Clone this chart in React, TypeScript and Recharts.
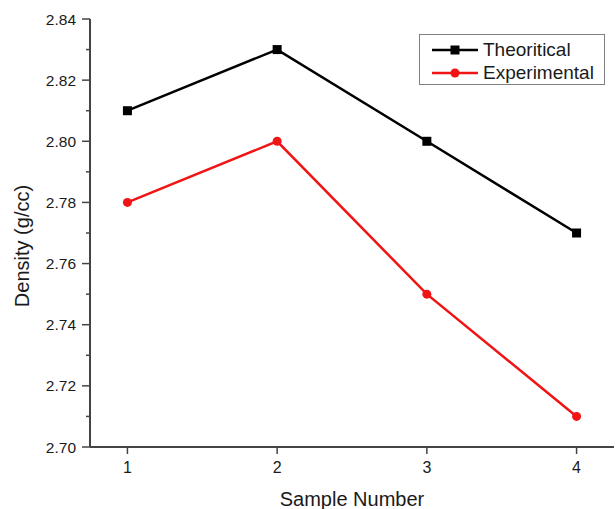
import React from "react";
import {
  LineChart,
  Line,
  XAxis,
  YAxis,
  Legend,
} from "recharts";

const samples = [1, 2, 3, 4];
const theoretical = [2.81, 2.83, 2.8, 2.77];
const experimental = [2.78, 2.8, 2.75, 2.71];
const seriesOrder = ["theo", "exp"];
const xTicks = [1, 2, 3, 4];
const yTicks = [
  2.7, 2.71, 2.72, 2.73, 2.74, 2.75, 2.76, 2.77, 2.78, 2.79, 2.8, 2.81, 2.82,
  2.83, 2.84,
];

const data = samples.map((s, i) => ({
  sample: s,
  theo: theoretical[i],
  exp: experimental[i],
}));

const FONT = "'Liberation Sans', Arial, sans-serif";
const TEXT = "#1a1a1a";
const AXIS = "#444";
const BORDER = "#808080";
const RED = "#f01414";

function YTick(props: any) {
  const { x, y, index } = props;
  const major = index % 2 === 0;
  return (
    <g>
      <line x1={x - (major ? 8 : 4)} x2={x} y1={y} y2={y} stroke={AXIS} strokeWidth={1.5} />
      {major && (
        <text
          x={x - 14}
          y={y}
          dy={5.5}
          textAnchor="end"
          fontSize={15.5}
          fontFamily={FONT}
          fill={TEXT}
        >
          {Number(props.payload.value).toFixed(2)}
        </text>
      )}
    </g>
  );
}

function renderXTick(props: any) {
  const { x, y, payload } = props;
  return (
    <text
      key={payload.value}
      x={x}
      y={y}
      dy={11}
      textAnchor="middle"
      style={{ fontSize: 16, fontFamily: FONT }}
      fill={TEXT}
    >
      {String(payload.value)}
    </text>
  );
}

function SquareDot(props: any) {
  const { cx, cy, index } = props;
  return <rect key={index} x={cx - 4.5} y={cy - 4.5} width={9} height={9} fill="#000" />;
}

function LegendBox(props: any) {
  const items = [...(props.payload || [])].sort(
    (a: any, b: any) => seriesOrder.indexOf(a.dataKey) - seriesOrder.indexOf(b.dataKey)
  );
  return (
    <div
      style={{
        border: `1.5px solid ${BORDER}`,
        width: 186,
        height: 51,
        boxSizing: "border-box",
        padding: "3px 0 0 11px",
        background: "#fff",
      }}
    >
      {items.map((it: any) => (
        <div
          key={it.value}
          style={{ display: "flex", alignItems: "center", height: 23 }}
        >
          <svg width={48} height={14} style={{ marginRight: 4 }}>
            <line x1={1} x2={47} y1={7} y2={7} stroke={it.color} strokeWidth={2.5} />
            {it.dataKey === "theo" ? (
              <rect x={19.5} y={2.5} width={9} height={9} fill={it.color} />
            ) : (
              <circle cx={24} cy={7} r={4.5} fill={it.color} />
            )}
          </svg>
          <span style={{ fontFamily: FONT, fontSize: 19, color: TEXT }}>
            {it.value}
          </span>
        </div>
      ))}
    </div>
  );
}

export default function App() {
  return (
    <div style={{ position: "absolute", left: 0, top: 0, background: "#fff", fontFamily: FONT }}>
      <LineChart
        width={616}
        height={509}
        data={data}
        margin={{ top: 19, right: 2, bottom: 0, left: 0 }}
      >
        <XAxis
          dataKey="sample"
          type="number"
          domain={[0.75, 4.25]}
          ticks={xTicks}
          height={62}
          tickSize={7}
          tickMargin={8}
          axisLine={{ stroke: AXIS, strokeWidth: 2 }}
          tickLine={{ stroke: AXIS, strokeWidth: 1.5 }}
          tick={renderXTick}
          label={{
            value: "Sample Number",
            position: "insideBottom",
            offset: 3,
            fontSize: 20,
            fontFamily: FONT,
            fill: TEXT,
          }}
        />
        <XAxis
          xAxisId="top"
          orientation="top"
          dataKey="sample"
          type="number"
          domain={[0.75, 4.25]}
          height={0}
          tick={false}
          tickLine={false}
          axisLine={{ stroke: BORDER, strokeWidth: 1.5 }}
        />
        <YAxis
          type="number"
          domain={[2.7, 2.84]}
          ticks={yTicks}
          interval={0}
          width={90}
          tickSize={0}
          tickMargin={0}
          tickLine={false}
          axisLine={{ stroke: AXIS, strokeWidth: 2 }}
          tick={<YTick />}
          label={{
            value: "Density (g/cc)",
            angle: -90,
            position: "center",
            dx: -23,
            dy: 13,
            fontSize: 20,
            fontFamily: FONT,
            fill: TEXT,
          }}
        />
        <YAxis
          yAxisId="right"
          orientation="right"
          type="number"
          domain={[2.7, 2.84]}
          width={0}
          tick={false}
          tickLine={false}
          axisLine={{ stroke: BORDER, strokeWidth: 1.5 }}
        />
        <Legend
          layout="vertical"
          align="center"
          verticalAlign="middle"
          content={<LegendBox />}
          wrapperStyle={{ left: 419, top: 34, width: 186, height: 51 }}
        />
        <Line
          dataKey="theo"
          name="Theoritical"
          stroke="#000"
          strokeWidth={2.5}
          dot={<SquareDot />}
          activeDot={false}
          isAnimationActive={false}
        />
        <Line
          dataKey="exp"
          name="Experimental"
          stroke={RED}
          strokeWidth={2.5}
          dot={{ r: 4.5, fill: RED, stroke: RED, strokeWidth: 0 }}
          activeDot={false}
          isAnimationActive={false}
        />
      </LineChart>
    </div>
  );
}
